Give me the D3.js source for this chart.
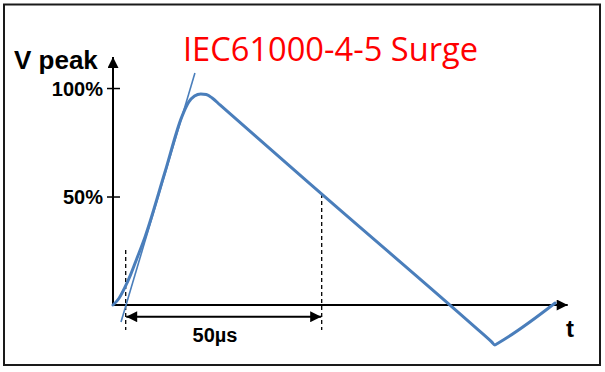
<!DOCTYPE html>
<html><head><meta charset="utf-8">
<script src="https://cdn.jsdelivr.net/npm/d3@7"></script>
<style>body{margin:0;background:#fff}svg{display:block}</style>
</head><body>
<script>
// ---- data ----
const title = "IEC61000-4-5 Surge";
const yLabel = "V peak";
const xLabel = "t";
const yTickValues = [50, 100];
const yTickLabels = ["50%", "100%"];
// surge waveform: time (µs) vs voltage (% of peak)
const waveTime  = [0, 1.5, 3.0, 4.5, 6.0, 8.2, 13.3, 17.5, 19.3, 20.8, 22.4, 23.8, 25.3, 27.3, 53.2, 92.3, 96.6, 97.4, 98.2, 112.8];
const waveValue = [0, 3.0, 8.0, 14.0, 21.0, 31.5, 61.5, 86.5, 93.5, 96.3, 97.3, 97.0, 95.4, 92.2, 51.2, -10.1, -17.0, -18.4, -17.6, 0.9];
// front-time tangent line
const tangentTime  = [2.04, 20.9];
const tangentValue = [-7.8, 106.9];
// time markers (virtual origin and 50% decay point)
const markerTime = [3.24, 53.24];
const markerTop  = [25.3, 51.2];
const markerBottom = -11.5;
const spanLabel = "50µs";
const spanLevel = -5.4;

// ---- layout ----
const W = 605, H = 372;
const svg = d3.select("body").append("svg").attr("width", W).attr("height", H);

const x = d3.scaleLinear().domain([0, 116]).range([113, 567.7]);
const y = d3.scaleLinear().domain([0, 114.3]).range([305, 57]);

// frame
svg.append("rect").attr("x", 4).attr("y", 4.5).attr("width", 596).attr("height", 360.5)
  .attr("fill", "none").attr("stroke", "#1a1a1a").attr("stroke-width", 2);

const defs = svg.append("defs");
function marker(id, orient) {
  defs.append("marker").attr("id", id).attr("viewBox", "0 0 10 10")
    .attr("refX", 10).attr("refY", 5).attr("markerUnits", "userSpaceOnUse")
    .attr("markerWidth", 12).attr("markerHeight", 11).attr("orient", orient)
    .append("path").attr("d", "M0,0 L10,5 L0,10 Z").attr("fill", "#000");
}
marker("arr", "auto");
marker("arr2", "auto-start-reverse");

// axes
svg.append("line").attr("x1", x(0)).attr("y1", y(0)).attr("x2", x(0)).attr("y2", y(114.3))
  .attr("stroke", "#000").attr("stroke-width", 2).attr("marker-end", "url(#arr)");
svg.append("line").attr("x1", x(0) - 1).attr("y1", y(0)).attr("x2", x(116)).attr("y2", y(0))
  .attr("stroke", "#000").attr("stroke-width", 2).attr("marker-end", "url(#arr)");

const yAxis = d3.axisLeft(y).tickValues(yTickValues)
  .tickFormat((d, i) => yTickLabels[i]).tickSizeInner(6).tickSizeOuter(0).tickPadding(4);
const ga = svg.append("g").attr("transform", `translate(${x(0)},0)`).call(yAxis);
ga.select(".domain").remove();
ga.selectAll(".tick line").attr("x1", -6).attr("x2", 7).attr("stroke", "#000").attr("stroke-width", 1.5);
ga.selectAll(".tick text").attr("font-family", "Liberation Sans, Arial, sans-serif")
  .attr("font-weight", "bold").attr("font-size", 20).attr("fill", "#000").attr("dy", "0.36em");

// labels
svg.append("text").attr("x", 14).attr("y", 69).text(yLabel)
  .attr("font-family", "Liberation Sans, Arial, sans-serif").attr("font-weight", "bold")
  .attr("font-size", 26).attr("fill", "#000");
svg.append("text").attr("x", 566).attr("y", 337).text(xLabel)
  .attr("font-family", "Liberation Sans, Arial, sans-serif").attr("font-weight", "bold")
  .attr("font-size", 24).attr("fill", "#000");
svg.append("text").attr("x", 183).attr("y", 61).text(title)
  .attr("font-family", "Open Sans, Noto Sans, sans-serif")
  .attr("font-size", 33).attr("fill", "#ff0000")
  .attr("textLength", 295).attr("lengthAdjust", "spacingAndGlyphs");

// marker dashed lines
markerTime.forEach((t, i) => {
  svg.append("line").attr("x1", x(t)).attr("x2", x(t))
    .attr("y1", y(markerTop[i])).attr("y2", y(markerBottom))
    .attr("stroke", "#000").attr("stroke-width", 1.3).attr("stroke-dasharray", "4,3");
});
// span arrow
svg.append("line").attr("x1", x(markerTime[0]) + 0.5).attr("x2", x(markerTime[1]) - 0.5)
  .attr("y1", y(spanLevel)).attr("y2", y(spanLevel))
  .attr("stroke", "#000").attr("stroke-width", 2)
  .attr("marker-start", "url(#arr2)").attr("marker-end", "url(#arr)");
svg.append("text").attr("x", 215).attr("y", 342)
  .attr("text-anchor", "middle").text(spanLabel)
  .attr("font-family", "Liberation Sans, Arial, sans-serif").attr("font-weight", "bold")
  .attr("font-size", 20).attr("fill", "#000");

// tangent line
const lineGen = d3.line().x(d => x(d[0])).y(d => y(d[1]));
svg.append("path").datum(d3.zip(tangentTime, tangentValue)).attr("d", lineGen)
  .attr("fill", "none").attr("stroke", "#4a7ebb").attr("stroke-width", 1.6);

// waveform
const curveGen = d3.line().x(d => x(d[0])).y(d => y(d[1])).curve(d3.curveMonotoneX);
svg.append("path").datum(d3.zip(waveTime, waveValue)).attr("d", curveGen)
  .attr("fill", "none").attr("stroke", "#4a7ebb").attr("stroke-width", 3)
  .attr("stroke-linejoin", "round").attr("stroke-linecap", "round");
</script>
</body></html>
